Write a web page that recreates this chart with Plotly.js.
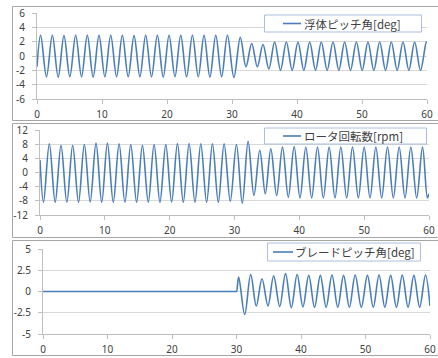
<!DOCTYPE html>
<html>
<head>
<meta charset="utf-8">
<script src="https://cdn.plot.ly/plotly-3.0.1.min.js"></script>
<style>html,body{margin:0;padding:0;background:#fff;}#chart{width:438px;height:358px;}</style>
</head>
<body>
<div id="chart"></div>
<script>
// ---- Data (extrema of each oscillation) ----
var pitchName = "浮体ピッチ角[deg]";
var pitchT = [0, 0.56, 1.46, 2.36, 3.26, 4.15, 5.05, 5.95, 6.85, 7.74, 8.64, 9.54, 10.44, 11.34, 12.24, 13.13, 14.03, 14.93, 15.83, 16.72, 17.62, 18.52, 19.42, 20.32, 21.22, 22.11, 23.01, 23.91, 24.81, 25.70, 26.60, 27.50, 28.40, 29.30, 30.29, 31.28, 32.15, 33.03, 33.90, 34.77, 35.67, 36.56, 37.46, 38.36, 39.26, 40.15, 41.05, 41.95, 42.85, 43.74, 44.64, 45.54, 46.44, 47.33, 48.23, 49.13, 50.03, 50.92, 51.82, 52.72, 53.62, 54.51, 55.41, 56.31, 57.21, 58.10, 59.00, 59.90, 60];
var pitchV = [-1.5, 2.9, -2.9, 2.9, -2.95, 2.85, -2.9, 2.9, -2.9, 2.9, -2.95, 2.9, -2.9, 2.9, -2.9, 2.9, -2.9, 2.85, -2.9, 2.9, -2.9, 2.9, -2.95, 2.9, -2.9, 2.9, -2.9, 2.9, -2.9, 2.9, -2.95, 2.9, -2.9, 2.9, -3.0, 2.6, -1.5, 1.75, -1.5, 1.6, -1.8, 1.95, -2.0, 1.95, -2.0, 1.95, -2.0, 1.95, -2.0, 1.95, -2.0, 1.95, -2.0, 1.95, -2.0, 1.95, -2.0, 1.95, -2.0, 1.95, -2.0, 1.95, -2.0, 1.95, -2.0, 1.95, -2.0, 1.95, 1.9];

var rotorName = "ロータ回転数[rpm]";
var rotorT = [0, 0.54, 1.44, 2.34, 3.24, 4.14, 5.04, 5.94, 6.84, 7.74, 8.64, 9.52, 10.4, 11.3, 12.2, 13.1, 14.0, 14.9, 15.8, 16.7, 17.6, 18.5, 19.4, 20.3, 21.2, 22.1, 23.0, 23.9, 24.8, 25.7, 26.6, 27.5, 28.4, 29.35, 30.3, 31.2, 32.1, 33.0, 33.9, 34.75, 35.6, 36.5, 37.4, 38.3, 39.2, 40.1, 41.0, 41.9, 42.8, 43.7, 44.6, 45.5, 46.4, 47.3, 48.2, 49.1, 50.0, 50.9, 51.8, 52.7, 53.6, 54.5, 55.4, 56.3, 57.2, 58.1, 59.0, 59.75, 60];
var rotorV = [3.5, -8.4, 8.1, -8.4, 7.7, -8.4, 7.7, -8.4, 7.9, -8.3, 8.3, -8.4, 8.3, -8.4, 8.1, -8.4, 7.9, -8.4, 7.7, -8.4, 7.9, -8.4, 7.9, -8.3, 8.2, -8.4, 8.2, -8.4, 8.1, -8.4, 8.1, -8.4, 8.1, -8.1, 7.9, -8.65, 8.8, -6.5, 6.3, -6.0, 6.7, -6.5, 7.2, -7.0, 7.3, -7.2, 7.2, -7.2, 7.2, -7.2, 7.2, -7.2, 7.2, -7.2, 7.2, -7.2, 7.2, -7.2, 7.2, -7.2, 7.2, -7.2, 7.2, -7.2, 7.2, -7.2, 7.2, -7.2, -6.0];

var bladeName = "ブレードピッチ角[deg]";
var bladeT = [0, 29.9, 30.0, 30.34, 31.27, 32.2, 33.07, 33.95, 34.88, 35.76, 36.7, 37.6, 38.5, 39.4, 40.3, 41.2, 42.1, 43.0, 43.9, 44.8, 45.7, 46.6, 47.5, 48.4, 49.35, 50.3, 51.2, 52.1, 53.0, 53.9, 54.8, 55.7, 56.6, 57.5, 58.4, 59.3, 60];
var bladeV = [0, 0, 0, 1.7, -2.7, 2.0, -1.7, 1.5, -1.7, 1.85, -1.75, 2.1, -1.9, 2.0, -1.8, 1.9, -1.85, 1.9, -1.85, 1.95, -1.85, 1.9, -1.85, 1.95, -1.85, 1.9, -1.85, 1.95, -1.85, 1.9, -1.85, 1.95, -1.85, 1.9, -1.85, 1.95, -1.7];

var xTicks = [0, 10, 20, 30, 40, 50, 60];
var xTickText = ["0", "10", "20", "30", "40", "50", "60"];
var pitchTicks = [-6, -4, -2, 0, 2, 4, 6];
var pitchTickText = ["-6", "-4", "-2", "0", "2", "4", "6"];
var rotorTicks = [-12, -8, -4, 0, 4, 8, 12];
var rotorTickText = ["-12", "-8", "-4", "0", "4", "8", "12"];
var bladeTicks = [-5, -2.5, 0, 2.5, 5];
var bladeTickText = ["-5", "-2.5", "0", "2.5", "5"];

// ---- Styles ----
var W = 438, H = 358;
var lineColor = "#4a7ebb";
var tickFont = {family: "Noto Sans, DejaVu Sans, sans-serif", size: 10, color: "#404040"};
var legFont = {family: "Noto Sans CJK JP, sans-serif", size: 11.5, color: "#404040"};
function px(x) { return x / W; }
function py(y) { return 1 - y / H; }

function xax(l, r, anchor) {
  return {domain: [px(l), px(r)], range: [0, 60], anchor: anchor,
    tickvals: xTicks, ticktext: xTickText, showgrid: false, zeroline: false,
    showline: true, linecolor: "#bfbfbf", linewidth: 1, ticks: "outside", ticklen: 4,
    tickcolor: "#bfbfbf", tickfont: tickFont, ticklabelstandoff: 2, fixedrange: true};
}
function yax(top, bot, rng, tv, tt, anchor) {
  return {domain: [py(bot), py(top)], range: rng, anchor: anchor,
    tickvals: tv, ticktext: tt, showgrid: true, gridcolor: "#d9d9d9", gridwidth: 1,
    zeroline: false, showline: true, linecolor: "#bfbfbf", linewidth: 1, ticks: "outside",
    ticklen: 4, tickcolor: "#bfbfbf", tickfont: tickFont, ticklabelstandoff: 5, fixedrange: true};
}

var traces = [
  {x: pitchT, y: pitchV, name: pitchName, type: "scatter", mode: "lines", xaxis: "x", yaxis: "y",
   line: {color: lineColor, width: 1.6, shape: "spline"}},
  {x: rotorT, y: rotorV, name: rotorName, type: "scatter", mode: "lines", xaxis: "x2", yaxis: "y2",
   line: {color: lineColor, width: 1.6, shape: "spline"}},
  {x: bladeT, y: bladeV, name: bladeName, type: "scatter", mode: "lines", xaxis: "x3", yaxis: "y3",
   line: {color: lineColor, width: 1.6, shape: "spline"}}
];

function box(top, bot) {
  return {type: "rect", xref: "paper", yref: "paper", x0: px(12.5), x1: 1.02, y0: py(bot), y1: py(top),
    line: {color: "#a6a6a6", width: 1}, layer: "below"};
}
// legend box: left, right, top, bottom; sample line from l1 to l2
function legShapes(l, r, t, b, l1, l2) {
  var yc = (t + b) / 2;
  return [
    {type: "rect", xref: "paper", yref: "paper", x0: px(l), x1: px(r), y0: py(b), y1: py(t),
     line: {color: "#a9c0de", width: 1}, fillcolor: "#ffffff", layer: "above"},
    {type: "line", xref: "paper", yref: "paper", x0: px(l1), x1: px(l2), y0: py(yc), y1: py(yc),
     line: {color: lineColor, width: 1.6}, layer: "above"}
  ];
}
function legText(txt, x, t, b) {
  return {text: txt, xref: "paper", yref: "paper", x: px(x), y: py((t + b) / 2),
    xanchor: "left", yanchor: "middle", showarrow: false, font: legFont};
}

var shapes = [box(6.5, 120.5), box(123.5, 237.5), box(240.5, 355.5)]
  .concat(legShapes(264.5, 421.5, 15, 32, 283, 301))
  .concat(legShapes(264.5, 426.5, 128, 144, 283, 301))
  .concat(legShapes(267.5, 420.5, 243, 261, 273, 293));

var layout = {
  width: W, height: H, autosize: false,
  margin: {l: 0, r: 0, t: 0, b: 0, pad: 0},
  paper_bgcolor: "#ffffff", plot_bgcolor: "rgba(0,0,0,0)",
  showlegend: false,
  xaxis: xax(37, 427, "y"),
  yaxis: yax(13, 99, [-6, 6], pitchTicks, pitchTickText, "x"),
  xaxis2: xax(40, 429, "y2"),
  yaxis2: yax(130, 215, [-12, 12], rotorTicks, rotorTickText, "x2"),
  xaxis3: xax(43, 430, "y3"),
  yaxis3: yax(249, 334, [-5, 5], bladeTicks, bladeTickText, "x3"),
  shapes: shapes,
  annotations: [
    legText(pitchName, 302, 15, 32),
    legText(rotorName, 302, 128, 144),
    legText(bladeName, 293, 243, 261)
  ]
};

Plotly.newPlot("chart", traces, layout, {displayModeBar: false, staticPlot: true});
</script>
</body>
</html>
